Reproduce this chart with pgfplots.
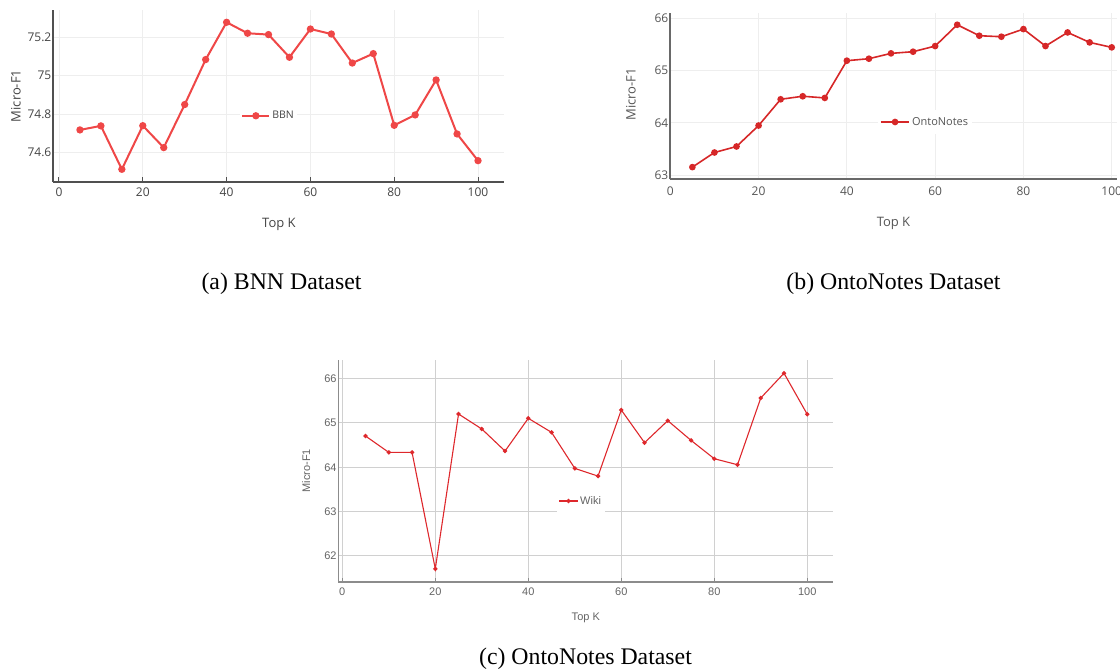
\documentclass[border=0pt]{standalone}
\usepackage{fontspec}
\setmainfont{Liberation Serif}
\newfontfamily\opensans{Open Sans}
\newfontfamily\libsans{Liberation Sans}
\usepackage{pgfplots}
\pgfplotsset{compat=1.18}
\definecolor{redA}{RGB}{239,71,71}
\definecolor{redB}{RGB}{214,39,40}
\definecolor{redC}{RGB}{222,40,44}
\definecolor{gridA}{RGB}{238,238,238}
\definecolor{gridC}{RGB}{208,208,208}
\definecolor{axisA}{RGB}{80,80,80}
\definecolor{axisB}{RGB}{105,105,105}
\definecolor{axisC}{RGB}{140,140,140}
\definecolor{textA}{RGB}{68,68,68}
\definecolor{textB}{RGB}{85,85,85}
\definecolor{textC}{RGB}{100,100,100}
\pgfplotsset{
  common/.style={
    scale only axis, anchor=south west,
    axis lines*=left,
    /pgf/number format/assume math mode=true,
    xtick={0,20,40,60,80,100},
    grid=major,
    ytick style={draw=none},
    tick align=inside,
    yticklabel style={anchor=east, inner xsep=1.5pt},
    clip=false,
  }
}
\begin{document}
\begin{tikzpicture}
\path[use as bounding box] (0,0) rectangle (1120pt,669pt);
% (a)
\begin{axis}[common,
  at={(53pt,487pt)}, width=451pt, height=172pt,
  xmin=-1.43, xmax=106.2, ymin=74.447, ymax=75.342,
  ytick={74.6,74.8,75,75.2},
  axis line style={draw=axisA, line width=1.6pt},
  major grid style={draw=gridA, line width=0.9pt},
  xtick style={draw=axisA, line width=1pt}, major tick length=5pt,
  ticklabel style={font=\opensans\fontsize{12}{12}\selectfont, text=textA},
  xticklabel style={inner ysep=5.7pt},
  xlabel={Top K}, ylabel={Micro-F1},
  label style={font=\opensans\fontsize{13}{13}\selectfont, text=textA},
  xlabel style={at={(axis description cs:0.501,-0.2442)}, anchor=center},
  ylabel style={at={(axis description cs:-0.082,0.5)}, anchor=center},
  legend style={at={(0.415,0.385)}, anchor=west, draw=none, fill=white,
    font=\opensans\fontsize{10.5}{10.5}\selectfont, text=textA, inner xsep=1pt, inner ysep=3pt},
  legend image code/.code={\draw[mark repeat=2,mark phase=2,#1] plot coordinates {(0pt,0pt) (13.5pt,0pt) (27pt,0pt)};},
]
\addplot[color=redA, line width=2pt, mark=*, mark size=2.6pt, mark options={solid}] coordinates {
(5,74.718) (10,74.739) (15,74.513) (20,74.740) (25,74.626) (30,74.850) (35,75.084)
(40,75.278) (45,75.221) (50,75.214) (55,75.096) (60,75.243) (65,75.217) (70,75.066)
(75,75.115) (80,74.742) (85,74.796) (90,74.978) (95,74.697) (100,74.558)};
\addlegendentry{BBN}
\end{axis}
% (b)
\begin{axis}[common,
  at={(670pt,489.7pt)}, width=447pt, height=166.6pt,
  xmin=-0.07, xmax=101.2, ymin=62.92, ymax=66.11,
  ytick={63,64,65,66},
  axis line style={draw=axisB, line width=2pt},
  major grid style={draw=gridA, line width=0.9pt},
  xtick style={draw=none},
  ticklabel style={font=\opensans\fontsize{12}{12}\selectfont, text=textB},
  xticklabel style={inner ysep=7pt},
  xlabel={Top K}, ylabel={Micro-F1},
  label style={font=\opensans\fontsize{13}{13}\selectfont, text=textB},
  xlabel style={at={(axis description cs:0.5,-0.262)}, anchor=center},
  ylabel style={at={(axis description cs:-0.0872,0.511)}, anchor=center},
  legend style={at={(0.465,0.344)}, anchor=west, draw=none, fill=white,
    font=\opensans\fontsize{11}{11}\selectfont, text=textB, inner xsep=2pt, inner ysep=5pt},
  legend image code/.code={\draw[mark repeat=2,mark phase=2,#1] plot coordinates {(0pt,0pt) (14.2pt,0pt) (28.4pt,0pt)};},
]
\addplot[color=redB, line width=1.6pt, mark=*, mark size=2.5pt, mark options={solid}] coordinates {
(5,63.153) (10,63.433) (15,63.548) (20,63.949) (25,64.452) (30,64.510) (35,64.478)
(40,65.191) (45,65.229) (50,65.331) (55,65.363) (60,65.471) (65,65.879) (70,65.669)
(75,65.650) (80,65.796) (85,65.471) (90,65.732) (95,65.541) (100,65.446)};
\addlegendentry{OntoNotes}
\end{axis}
% (c)
\begin{axis}[common,
  at={(338.3pt,87pt)}, width=495pt, height=222pt,
  xmin=-0.86, xmax=105.6, ymin=61.41, ymax=66.42,
  ytick={62,63,64,65,66},
  axis line style={draw=axisC, line width=1.2pt},
  major grid style={draw=gridC, line width=0.9pt},
  xtick style={draw=axisC, line width=1pt}, major tick length=3.5pt,
  ticklabel style={font=\libsans\fontsize{11}{11}\selectfont, text=textC},
  xticklabel style={inner ysep=5.7pt},
  xlabel={Top K}, ylabel={Micro-F1},
  label style={font=\libsans\fontsize{11}{11}\selectfont, text=textC},
  xlabel style={at={(axis description cs:0.5,-0.162)}, anchor=center},
  ylabel style={at={(axis description cs:-0.065,0.501)}, anchor=center},
  legend style={at={(0.441,0.365)}, anchor=west, draw=none, fill=white,
    font=\libsans\fontsize{11}{11}\selectfont, text=textC, inner xsep=2pt, inner ysep=5pt},
  legend image code/.code={\draw[mark repeat=2,mark phase=2,#1] plot coordinates {(0pt,0pt) (9.15pt,0pt) (18.3pt,0pt)};},
]
\addplot[color=redC, line width=1.1pt, mark=*, mark size=1.6pt, mark options={solid}] coordinates {
(5,64.704) (10,64.335) (15,64.335) (20,61.706) (25,65.201) (30,64.863) (35,64.365)
(40,65.104) (45,64.787) (50,63.974) (55,63.800) (60,65.292) (65,64.554) (70,65.051)
(75,64.606) (80,64.192) (85,64.056) (90,65.563) (95,66.121) (100,65.194)};
\addlegendentry{Wiki}
\end{axis}
\node[font=\fontsize{23.8}{24}\selectfont, anchor=base] at (281.5pt,379.7pt) {(a) BNN Dataset};
\node[font=\fontsize{23.8}{24}\selectfont, anchor=base] at (893.5pt,379.7pt) {(b) OntoNotes Dataset};
\node[font=\fontsize{23.8}{24}\selectfont, anchor=base] at (585.5pt,4pt) {(c) OntoNotes Dataset};
\end{tikzpicture}
\end{document}
